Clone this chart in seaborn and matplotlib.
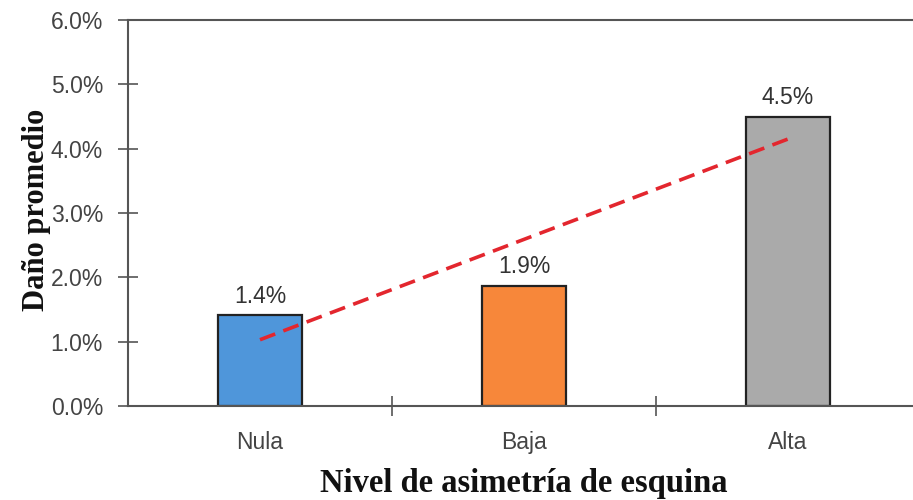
import matplotlib
matplotlib.use("Agg")
import matplotlib.pyplot as plt
import seaborn as sns
import pandas as pd
from matplotlib.ticker import FuncFormatter, FixedLocator
from matplotlib import font_manager

categories = ["Nula", "Baja", "Alta"]
values = [1.41, 1.87, 4.50]
bar_labels = ["1.4%", "1.9%", "4.5%"]
trend_values = [1.03, 4.15]
colors = ["#4F96DA", "#F7873A", "#AAAAAA"]

sns.set_theme(style="white")
names = {f.name for f in font_manager.fontManager.ttflist}
tick_font = "Liberation Sans Narrow" if "Liberation Sans Narrow" in names else "Liberation Sans"
plt.rcParams["font.family"] = [tick_font, "DejaVu Sans"]

df = pd.DataFrame({"cat": categories, "val": values})

fig = plt.figure(figsize=(9.13, 5.0), dpi=100)
ax = fig.add_axes([128/913, 94/500, 792/913, 386/500])

sns.barplot(data=df, x="cat", y="val", hue="cat", palette=colors, legend=False,
            width=0.32, edgecolor="#222222", linewidth=1.6, ax=ax, saturation=1)

ax.plot([0, 2], trend_values, color="#E3262E", linestyle=(0, (4.5, 2.4)), linewidth=2.6,
        zorder=5)

for i, (v, lab) in enumerate(zip(values, bar_labels)):
    ax.text(i, v + 0.12, lab, ha="center", va="bottom", fontsize=16.5, color="#333333",
            family=[tick_font, "DejaVu Sans"])

ax.set_xlim(-0.5, 2.5)
ax.set_ylim(0, 6)
ax.yaxis.set_major_locator(FixedLocator([0, 1, 2, 3, 4, 5, 6]))
ax.yaxis.set_major_formatter(FuncFormatter(lambda v, p: f"{v:.1f}%"))
ax.xaxis.set_minor_locator(FixedLocator([0.5, 1.5]))

for s in ["left", "bottom", "top"]:
    ax.spines[s].set_visible(True)
    ax.spines[s].set_color("#555555")
    ax.spines[s].set_linewidth(1.5)
ax.spines["right"].set_visible(False)

ax.tick_params(axis="y", which="major", direction="inout", length=14, width=1.2,
               color="#555555", labelsize=16.5, labelcolor="#444444", pad=11, left=True)
ax.tick_params(axis="x", which="major", length=0, labelsize=16.5, labelcolor="#444444", pad=18)
ax.tick_params(axis="x", which="minor", direction="inout", length=14, width=1.2,
               color="#555555", bottom=True)

ax.set_xlabel("Nivel de asimetría de esquina", family=["Liberation Serif", "DejaVu Serif"],
              fontweight="bold", fontsize=23.5, color="#111111", labelpad=10)
ax.set_ylabel("Daño promedio", family=["Liberation Serif", "DejaVu Serif"],
              fontweight="bold", fontsize=22, color="#111111", ha="center", va="center")
ax.yaxis.set_label_coords(-0.116, 0.508)
ax.grid(False)

fig.savefig("out.png", dpi=100)
